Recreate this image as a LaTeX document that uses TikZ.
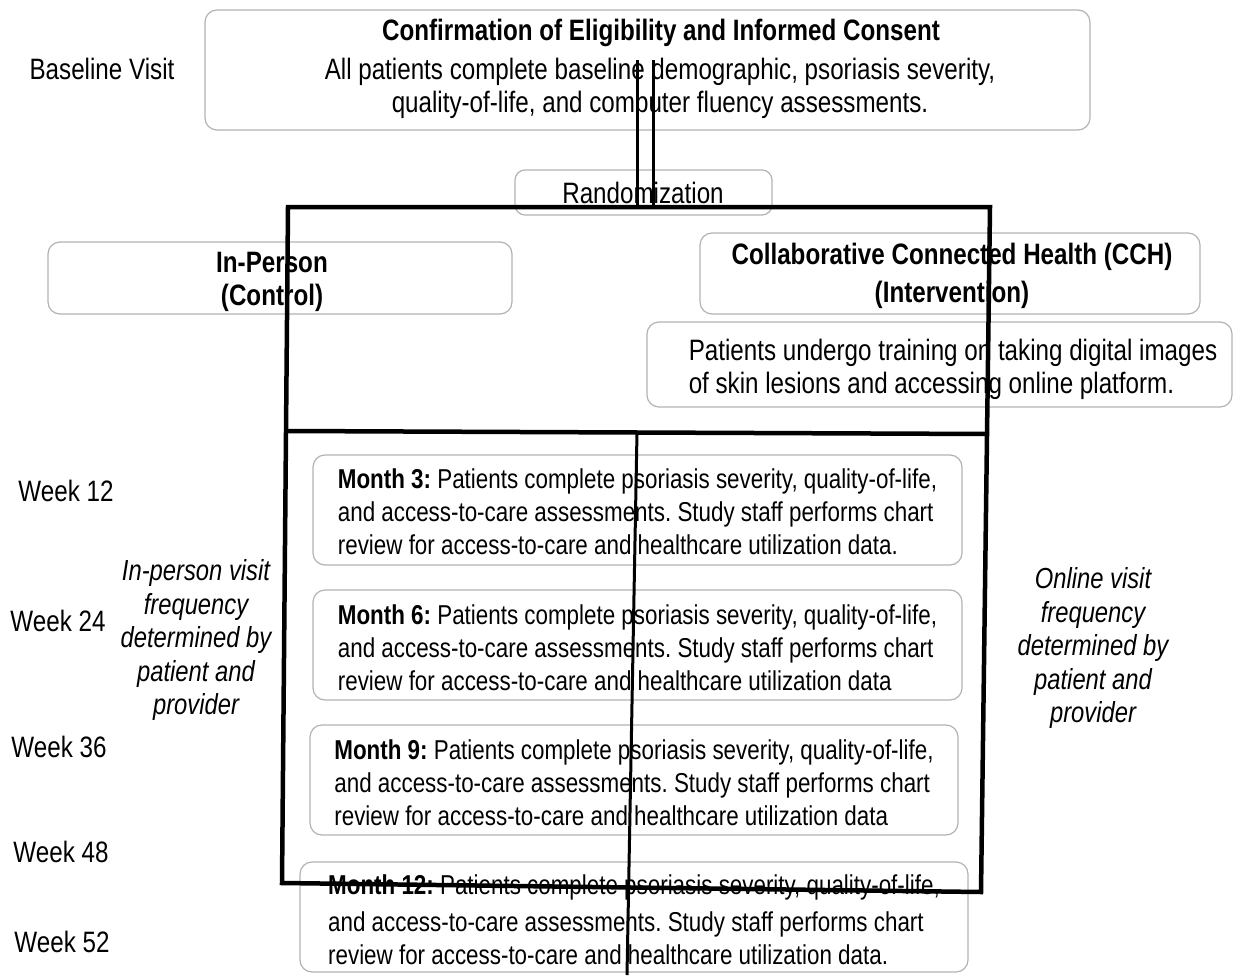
\documentclass[tikz,border=0pt]{standalone}
\usepackage{fontspec}
\setmainfont{Liberation Sans}[FakeStretch=0.82]
\frenchspacing
\begin{document}
\frenchspacing
\begin{tikzpicture}[x=1pt,y=-1pt,
  gbox/.style={draw=gray!60, line width=1.2pt, rounded corners=12pt, inner sep=0pt},
  lbl/.style={font=\fontsize{29.5}{33}\selectfont, inner sep=0pt, align=center},
  mtxt/.style={font=\fontsize{27.3}{33}\selectfont, inner sep=0pt, align=left},
  itxt/.style={font=\fontsize{29}{33.5}\selectfont\itshape, inner sep=0pt, align=center},
  heavy/.style={line width=4.5pt, line join=miter},
  thin/.style={line width=3pt}]
\useasboundingbox (0,0) rectangle (1236,979);
% boxes
\node[gbox, minimum width=885pt, minimum height=120pt] (topbox) at (647.5,70) {};
\node[gbox, minimum width=257pt, minimum height=45pt, rounded corners=10pt] (randbox) at (643.5,192.5) {};
\node[gbox, minimum width=464pt, minimum height=72pt] (ipbox) at (280,278) {};
\node[gbox, minimum width=500pt, minimum height=81pt] (cchbox) at (950,273.5) {};
\node[gbox, minimum width=585pt, minimum height=85pt] (trbox) at (939.5,364.5) {};
\node[gbox, minimum width=649pt, minimum height=110pt] (m3box) at (637.5,510) {};
\node[gbox, minimum width=649pt, minimum height=110pt] (m6box) at (637.5,645) {};
\node[gbox, minimum width=648pt, minimum height=110pt] (m9box) at (634,780) {};
\node[gbox, minimum width=668pt, minimum height=110pt] (m12box) at (634,917) {};
% texts
\node[lbl] (title) at (661,33) {\textbf{Confirmation of Eligibility and Informed Consent}};
\node[lbl] (base) at (660,88) {All patients complete baseline demographic, psoriasis severity,\\quality-of-life, and computer fluency assessments.};
\node[lbl] (rand) at (643,193) {Randomization};
\node[lbl] (ip) at (272,282) {\textbf{In-Person}\\\textbf{(Control)}};
\node[lbl] (cch) at (952,276) {\textbf{Collaborative Connected Health (CCH)}\\[5pt]\textbf{(Intervention)}};
\node[lbl, align=left] (train) at (953,369) {Patients undergo training on taking digital images\\of skin lesions and accessing online platform.};
\node[mtxt] (m3) at (637.5,512) {\textbf{Month 3:} Patients complete psoriasis severity, quality-of-life,\\and access-to-care assessments. Study staff performs chart\\review for access-to-care and healthcare utilization data.};
\node[mtxt] (m6) at (637.5,648) {\textbf{Month 6:} Patients complete psoriasis severity, quality-of-life,\\and access-to-care assessments. Study staff performs chart\\review for access-to-care and healthcare utilization data};
\node[mtxt] (m9) at (634,783) {\textbf{Month 9:} Patients complete psoriasis severity, quality-of-life,\\and access-to-care assessments. Study staff performs chart\\review for access-to-care and healthcare utilization data};
\node[mtxt] (m12) at (634,920) {\textbf{Month 12:} Patients complete psoriasis severity, quality-of-life,\\[4pt]and access-to-care assessments. Study staff performs chart\\review for access-to-care and healthcare utilization data.};
\node[lbl] (bv) at (102,69) {Baseline Visit};
\node[lbl] (w12) at (66,491) {Week 12};
\node[lbl] (w24) at (58,621) {Week 24};
\node[lbl] (w36) at (59,747) {Week 36};
\node[lbl] (w48) at (61,852) {Week 48};
\node[lbl] (w52) at (62,942) {Week 52};
\node[itxt] (ipfreq) at (196,640) {In-person visit\\frequency\\determined by\\patient and\\provider};
\node[itxt] (onfreq) at (1093,648) {Online visit\\frequency\\determined by\\patient and\\provider};
% black lines
\coordinate (a1) at (637,60);
\coordinate (a2) at (637,208);
\coordinate (b1) at (653,60);
\coordinate (b2) at (653,207);
\coordinate (TL) at (288,207);
\coordinate (TR) at (990,207);
\coordinate (BR) at (981,892);
\coordinate (BL) at (282,883);
\coordinate (ML) at (287.5,431);
\coordinate (MR) at (988.5,434);
\coordinate (c1) at (637,432);
\coordinate (c2) at (627,975);
\draw[thin] (a1) -- (a2);
\draw[thin] (b1) -- (b2);
\draw[heavy] (TL) -- (TR) -- (BR) -- (BL) -- cycle;
\draw[heavy] (ML) -- (MR);
\draw[thin] (c1) -- (c2);
\end{tikzpicture}
\end{document}
